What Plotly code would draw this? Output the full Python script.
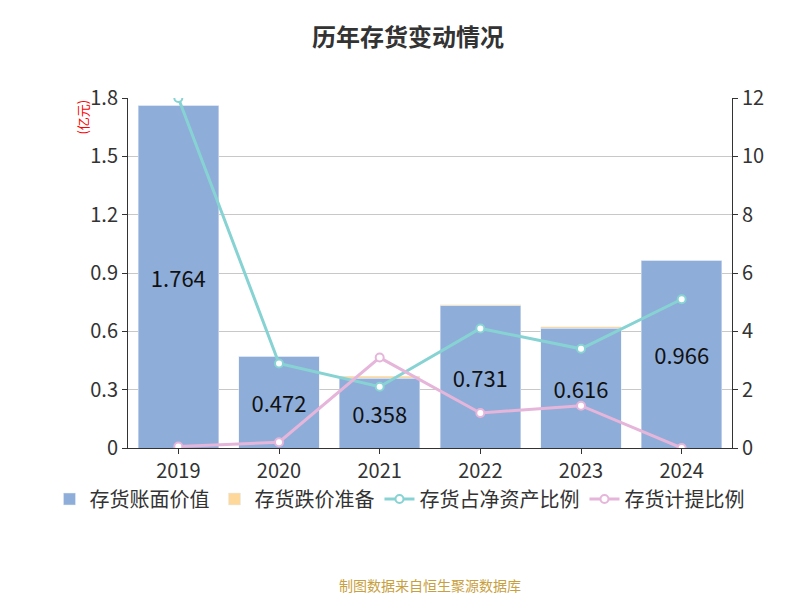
import plotly.graph_objects as go

years = ["2019", "2020", "2021", "2022", "2023", "2024"]
book_value = [1.764, 0.472, 0.358, 0.731, 0.616, 0.966]
reserve = [0.0, 0.0, 0.01, 0.007, 0.007, 0.0]
ratio_net_assets = [12.0, 2.9, 2.1, 4.1, 3.4, 5.1]
provision_ratio = [0.05, 0.2, 3.1, 1.2, 1.45, 0.0]

font = "Noto Sans CJK SC"
fig = go.Figure()
fig.add_trace(go.Bar(x=years, y=book_value, name="存货账面价值", marker_color="#8eadd9",
                     text=[f"{v:.3f}" for v in book_value], textposition="inside",
                     insidetextanchor="middle", textfont=dict(size=22, color="#111"),
                     textangle=0))
fig.add_trace(go.Bar(x=years, y=reserve, name="存货跌价准备", marker_color="#fdd89a"))
fig.add_trace(go.Scatter(x=years, y=ratio_net_assets, name="存货占净资产比例", yaxis="y2",
                         mode="lines+markers", line=dict(color="#87d3d3", width=3),
                         marker=dict(size=8, color="white", line=dict(color="#87d3d3", width=2))))
fig.add_trace(go.Scatter(x=years, y=provision_ratio, name="存货计提比例", yaxis="y2",
                         mode="lines+markers", line=dict(color="#e6b5da", width=3),
                         marker=dict(size=8, color="white", line=dict(color="#e6b5da", width=2))))

fig.update_layout(
    width=800, height=600, barmode="stack", bargap=0.2,
    plot_bgcolor="white", paper_bgcolor="white",
    font=dict(family=font, size=20, color="#333"),
    margin=dict(l=120, r=76, t=90, b=160, autoexpand=False),
    title=dict(text="<b>历年存货变动情况</b>", x=0.5, y=0.965, xanchor="center",
               font=dict(size=24, color="#333")),
    xaxis=dict(showline=True, linecolor="#333", ticks="outside", tickcolor="#333",
               tickfont=dict(size=20)),
    yaxis=dict(range=[0, 1.8], tickvals=[0, 0.3, 0.6, 0.9, 1.2, 1.5, 1.8],
               ticktext=["0", "0.3", "0.6", "0.9", "1.2", "1.5", "1.8"],
               gridcolor="#c8c8c8", showline=True, linecolor="#333", ticks="outside",
               tickcolor="#333", zeroline=False),
    yaxis2=dict(range=[0, 12], tickvals=[0, 2, 4, 6, 8, 10, 12], overlaying="y", side="right",
                showgrid=False, showline=True, linecolor="#333", ticks="outside",
                tickcolor="#333", zeroline=False),
    legend=dict(orientation="h", x=-0.13, y=-0.09, xanchor="left", yanchor="top",
                traceorder="normal", font=dict(size=20), tracegroupgap=0),
    annotations=[
        dict(text="(亿元)", x=-0.095, y=1.0, xref="paper", yref="paper", showarrow=False,
             textangle=-90, yanchor="top", font=dict(size=13, color="red")),
        dict(text="(%)", x=1.13, y=1.0, xref="paper", yref="paper", showarrow=False,
             textangle=-90, yanchor="top", xanchor="left", font=dict(size=13, color="red")),
        dict(text="制图数据来自恒生聚源数据库", x=0.5, y=-0.425, xref="paper", yref="paper",
             xanchor="center", showarrow=False, font=dict(size=14, color="#c8a040")),
    ],
)
fig.write_html("out.html")
